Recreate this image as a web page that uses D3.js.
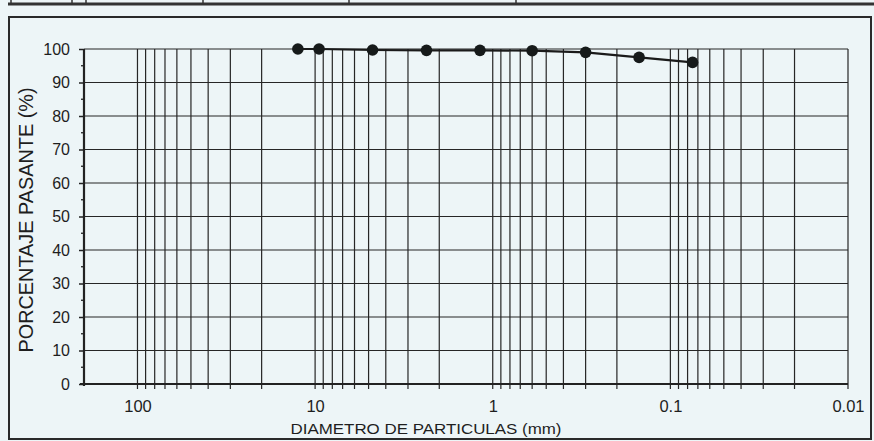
<!DOCTYPE html>
<html>
<head>
<meta charset="utf-8">
<script src="https://cdn.jsdelivr.net/npm/d3@7/dist/d3.min.js"></script>
<style>
  html, body { margin: 0; padding: 0; background: #edf5f7; }
  svg { display: block; }
  text { font-family: "Liberation Sans", Arial, sans-serif; fill: #1e1e1e; }
</style>
</head>
<body>
<svg id="chart" width="874" height="441"></svg>
<script>
// Grain size distribution: sieve opening (mm) vs percent passing
const sieveSizes = [12.5, 9.5, 4.75, 2.36, 1.18, 0.6, 0.3, 0.15, 0.075];
const percentPassing = [100, 100, 99.7, 99.6, 99.6, 99.5, 99.0, 97.5, 96.0];
const xTickLabels = [100, 10, 1, 0.1, 0.01];
const yTickValues = [0, 10, 20, 30, 40, 50, 60, 70, 80, 90, 100];
const yMinorValues = [5, 15, 25, 35, 45, 55, 65, 75, 85, 95];

const svg = d3.select("#chart");
const ink = "#222";

const x = d3.scaleLog().domain([200, 0.01]).range([84, 848]);
const y = d3.scaleLinear().domain([0, 100]).range([384, 49]);

// Fragment of the report table above the chart
const table = svg.append("g");
table.append("line").attr("x1", 8).attr("x2", 874).attr("y1", 4).attr("y2", 4)
  .attr("stroke", "#333").attr("stroke-width", 3);
[11, 72, 86, 203, 349, 516].forEach(px => {
  table.append("line").attr("x1", px).attr("x2", px).attr("y1", 0).attr("y2", 5)
    .attr("stroke", "#333").attr("stroke-width", 1.5);
});

// Frame around the chart
svg.append("rect").attr("x", 9).attr("y", 17).attr("width", 862).attr("height", 422)
  .attr("fill", "none").attr("stroke", "#2a2a2a").attr("stroke-width", 2);

// Log grid lines (1..9 per decade)
const gridVals = [];
for (let k = -2; k <= 1; k++) {
  for (let m = 1; m <= 9; m++) gridVals.push(m * Math.pow(10, k));
}
gridVals.push(100);

const grid = svg.append("g");
grid.selectAll("line.v").data(gridVals).join("line")
  .attr("class", "v")
  .attr("x1", d => x(d)).attr("x2", d => x(d))
  .attr("y1", y(100)).attr("y2", y(0) + 5)
  .attr("stroke", "#262626").attr("stroke-width", 1.2);

grid.selectAll("line.h").data(yTickValues).join("line")
  .attr("class", "h")
  .attr("x1", x(200)).attr("x2", x(0.01))
  .attr("y1", d => y(d)).attr("y2", d => y(d))
  .attr("stroke", "#262626").attr("stroke-width", 1.2);

// Axes lines
svg.append("line").attr("x1", x(200)).attr("x2", x(200)).attr("y1", y(100)).attr("y2", y(0) + 2)
  .attr("stroke", ink).attr("stroke-width", 2.2);
svg.append("line").attr("x1", x(200) - 4).attr("x2", x(0.01)).attr("y1", y(0)).attr("y2", y(0))
  .attr("stroke", ink).attr("stroke-width", 2.2);

// Y axis with major and minor ticks
const yAxis = d3.axisLeft(y).tickValues(yTickValues).tickSize(5).tickPadding(9).tickFormat(d3.format("d"));
const gy = svg.append("g").attr("transform", `translate(${x(200)},0)`).call(yAxis);
gy.select(".domain").remove();
gy.selectAll(".tick line").attr("stroke", ink).attr("stroke-width", 1.5);
gy.selectAll(".tick text").attr("font-size", 16).attr("fill", "#161616")
  .style("font-family", "'Liberation Sans', Arial, sans-serif");

svg.append("g").selectAll("line").data(yMinorValues).join("line")
  .attr("x1", x(200) - 3).attr("x2", x(200))
  .attr("y1", d => y(d)).attr("y2", d => y(d))
  .attr("stroke", ink).attr("stroke-width", 1.3);

// X axis labels (decades)
const xAxis = d3.axisBottom(x).tickValues(xTickLabels).tickSize(0).tickPadding(16)
  .tickFormat(d => String(d));
const gx = svg.append("g").attr("transform", `translate(0,${y(0)})`).call(xAxis);
gx.select(".domain").remove();
gx.selectAll(".tick text").attr("font-size", 16.5).attr("fill", "#161616")
  .style("font-family", "'Liberation Sans', Arial, sans-serif");

// Axis titles
svg.append("text")
  .attr("x", 426).attr("y", 434)
  .attr("text-anchor", "middle")
  .attr("font-size", 15)
  .attr("textLength", 271).attr("lengthAdjust", "spacingAndGlyphs")
  .text("DIAMETRO DE PARTICULAS (mm)");

svg.append("text")
  .attr("transform", "translate(33,220) rotate(-90)")
  .attr("text-anchor", "middle")
  .attr("font-size", 19.5)
  .attr("textLength", 265).attr("lengthAdjust", "spacingAndGlyphs")
  .text("PORCENTAJE  PASANTE (%)");

// Gradation curve
const pts = sieveSizes.map((s, i) => [s, percentPassing[i]]);
svg.append("path")
  .datum(pts)
  .attr("fill", "none")
  .attr("stroke", "#1a1a1a")
  .attr("stroke-width", 2.2)
  .attr("d", d3.line().x(d => x(d[0])).y(d => y(d[1])));

svg.append("g").selectAll("circle").data(pts).join("circle")
  .attr("cx", d => x(d[0])).attr("cy", d => y(d[1]))
  .attr("r", 5.8)
  .attr("fill", "#161a1a");
</script>
</body>
</html>
